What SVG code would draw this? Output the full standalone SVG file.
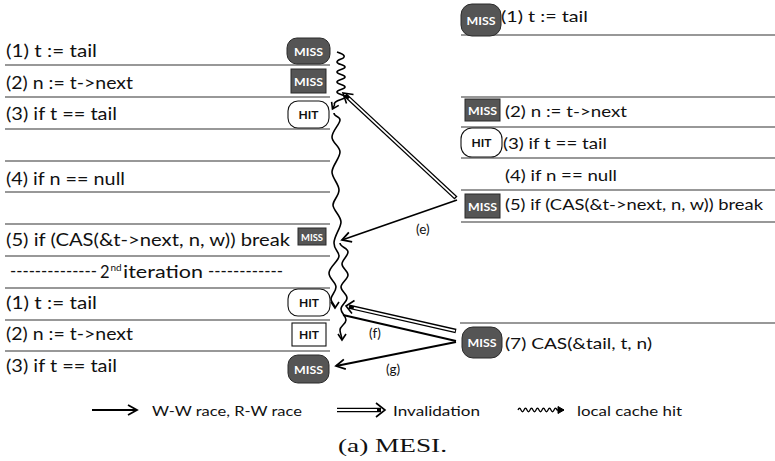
<svg xmlns="http://www.w3.org/2000/svg" width="775" height="461" viewBox="0 0 775 461">
  <style>
    .code { font-family: Lato, "Open Sans", "DejaVu Sans", sans-serif; font-size: 16.5px; fill: #111; }
    .codeR { font-family: Lato, "Open Sans", "DejaVu Sans", sans-serif; font-size: 16px; fill: #111; }
    .legend { font-family: Lato, "Open Sans", "DejaVu Sans", sans-serif; font-size: 14px; fill: #111; }
    .lbl { font-family: Lato, "Open Sans", "DejaVu Sans", sans-serif; font-size: 13.5px; fill: #111; }
    .caption { font-family: "Liberation Serif", "DejaVu Serif", serif; font-size: 19px; fill: #111; }
    .rule { stroke: #333; stroke-width: 1.2; }
    .missBlob { fill: #555; stroke: #2a2a2a; stroke-width: 1; }
    .missBox { fill: #555; stroke: #2a2a2a; stroke-width: 1; }
    .hitBlob { fill: #fff; stroke: #111; stroke-width: 1.1; }
    .hitBox { fill: #fff; stroke: #111; stroke-width: 1.1; }
    .tagW { font-family: Lato, "Open Sans", "DejaVu Sans", sans-serif; font-weight: bold; font-size: 11.5px; fill: #fff; text-anchor: middle; }
    .tagB { font-family: Lato, "Open Sans", "DejaVu Sans", sans-serif; font-weight: bold; font-size: 11.5px; fill: #111; text-anchor: middle; }
    .race { fill: none; stroke: #000; stroke-width: 1.8; }
    .invOut { fill: none; stroke: #000; stroke-width: 4.4; }
    .invIn { fill: none; stroke: #fff; stroke-width: 1.8; }
    .wave { fill: none; stroke: #000; stroke-width: 1.6; stroke-linejoin: round; }
  </style>
  <defs>
    <marker id="ah" markerUnits="userSpaceOnUse" markerWidth="20" markerHeight="20" refX="0" refY="0" orient="auto" overflow="visible">
      <path d="M-9,-5 L0,0 L-9,5" fill="none" stroke="#000" stroke-width="1.8" stroke-linejoin="miter"/>
    </marker>
    <marker id="ahw" markerUnits="userSpaceOnUse" markerWidth="20" markerHeight="20" refX="0" refY="0" orient="auto" overflow="visible">
      <path d="M-6,-4 L0,0 L-6,4" fill="none" stroke="#000" stroke-width="1.6"/>
    </marker>
    <marker id="ahs" markerUnits="userSpaceOnUse" markerWidth="20" markerHeight="20" refX="0" refY="0" orient="auto" overflow="visible">
      <path d="M-6,-3.5 L0,0 L-6,3.5 Z" fill="#000" stroke="#000" stroke-width="1"/>
    </marker>
  </defs>

  <!-- left thread: code rows -->
  <g id="left-rules">
    <line class="rule" x1="5" y1="65" x2="330" y2="65"/>
    <line class="rule" x1="5" y1="97" x2="330" y2="97"/>
    <line class="rule" x1="5" y1="129" x2="330" y2="129"/>
    <line class="rule" x1="5" y1="161" x2="330" y2="161"/>
    <line class="rule" x1="5" y1="192" x2="330" y2="192"/>
    <line class="rule" x1="5" y1="224" x2="330" y2="224"/>
    <line class="rule" x1="5" y1="256" x2="330" y2="256"/>
    <line class="rule" x1="5" y1="288" x2="330" y2="288"/>
    <line class="rule" x1="5" y1="320" x2="330" y2="320"/>
    <line class="rule" x1="5" y1="351" x2="330" y2="351"/>
  </g>

  <g id="L1">
    <text class="code" x="6" y="57" textLength="91" lengthAdjust="spacingAndGlyphs">(1) t := tail</text>
    <rect class="missBlob" x="287" y="38" width="43" height="26" rx="10"/>
    <text class="tagW" x="308.5" y="55.5" textLength="29" lengthAdjust="spacingAndGlyphs">MISS</text>
  </g>
  <g id="L2">
    <text class="code" x="6" y="89" textLength="127" lengthAdjust="spacingAndGlyphs">(2) n := t-&gt;next</text>
    <rect class="missBox" x="291" y="69" width="35" height="24"/>
    <text class="tagW" x="308.5" y="85.5" textLength="29" lengthAdjust="spacingAndGlyphs">MISS</text>
  </g>
  <g id="L3">
    <text class="code" x="6" y="120" textLength="111" lengthAdjust="spacingAndGlyphs">(3) if t == tail</text>
    <rect class="hitBlob" x="288" y="101" width="41" height="27" rx="10"/>
    <text class="tagB" x="308.5" y="119" textLength="20" lengthAdjust="spacingAndGlyphs">HIT</text>
  </g>
  <g id="L4">
    <text class="code" x="6" y="185" textLength="119" lengthAdjust="spacingAndGlyphs">(4) if n == null</text>
  </g>
  <g id="L5">
    <text class="code" x="6" y="246" textLength="284" lengthAdjust="spacingAndGlyphs">(5) if (CAS(&amp;t-&gt;next, n, w)) break</text>
    <rect class="missBox" x="298" y="228" width="28" height="17"/>
    <text class="tagW" x="312" y="240.5" style="font-size:9.5px" textLength="22" lengthAdjust="spacingAndGlyphs">MISS</text>
  </g>
  <g id="iteration2">
    <text class="code" x="10" y="277" textLength="87" lengthAdjust="spacingAndGlyphs">--------------</text>
    <text class="code" x="100" y="278">2</text>
    <text class="code" x="110.5" y="271" style="font-size:10px">nd</text>
    <text class="code" x="123" y="278" textLength="80" lengthAdjust="spacingAndGlyphs">iteration</text>
    <text class="code" x="208" y="277" textLength="75" lengthAdjust="spacingAndGlyphs">------------</text>
  </g>
  <g id="L1b">
    <text class="code" x="6" y="309" textLength="91" lengthAdjust="spacingAndGlyphs">(1) t := tail</text>
    <rect class="hitBlob" x="288" y="289" width="42" height="27" rx="10"/>
    <text class="tagB" x="309" y="307" textLength="20" lengthAdjust="spacingAndGlyphs">HIT</text>
  </g>
  <g id="L2b">
    <text class="code" x="6" y="340" textLength="127" lengthAdjust="spacingAndGlyphs">(2) n := t-&gt;next</text>
    <rect class="hitBox" x="292" y="323" width="34" height="23"/>
    <text class="tagB" x="309" y="339" textLength="20" lengthAdjust="spacingAndGlyphs">HIT</text>
  </g>
  <g id="L3b">
    <text class="code" x="6" y="372" textLength="111" lengthAdjust="spacingAndGlyphs">(3) if t == tail</text>
    <rect class="missBlob" x="288" y="355" width="41" height="28" rx="10"/>
    <text class="tagW" x="308.5" y="373.5" textLength="29" lengthAdjust="spacingAndGlyphs">MISS</text>
  </g>

  <!-- right thread: code rows -->
  <g id="right-rules">
    <line class="rule" x1="461" y1="35" x2="775" y2="35"/>
    <line class="rule" x1="461" y1="97" x2="775" y2="97"/>
    <line class="rule" x1="461" y1="127" x2="775" y2="127"/>
    <line class="rule" x1="461" y1="158" x2="775" y2="158"/>
    <line class="rule" x1="461" y1="190" x2="775" y2="190"/>
    <line class="rule" x1="461" y1="222" x2="775" y2="222"/>
    <line class="rule" x1="460" y1="323" x2="775" y2="323"/>
  </g>
  <g id="R1">
    <rect class="missBlob" x="461" y="4" width="40" height="32" rx="11"/>
    <text class="tagW" x="481" y="24.5" textLength="29" lengthAdjust="spacingAndGlyphs">MISS</text>
    <text class="codeR" x="501" y="22" textLength="87" lengthAdjust="spacingAndGlyphs">(1) t := tail</text>
  </g>
  <g id="R2">
    <rect class="missBox" x="465" y="99" width="35" height="22"/>
    <text class="tagW" x="482.5" y="114.5" textLength="29" lengthAdjust="spacingAndGlyphs">MISS</text>
    <text class="codeR" x="505" y="117" textLength="122" lengthAdjust="spacingAndGlyphs">(2) n := t-&gt;next</text>
  </g>
  <g id="R3">
    <rect class="hitBlob" x="461" y="128" width="41" height="29" rx="11"/>
    <text class="tagB" x="481.5" y="146.5" textLength="20" lengthAdjust="spacingAndGlyphs">HIT</text>
    <text class="codeR" x="503" y="149" textLength="104" lengthAdjust="spacingAndGlyphs">(3) if t == tail</text>
  </g>
  <g id="R4">
    <text class="codeR" x="505" y="181" textLength="112" lengthAdjust="spacingAndGlyphs">(4) if n == null</text>
  </g>
  <g id="R5">
    <rect class="missBox" x="465" y="194" width="35" height="24"/>
    <text class="tagW" x="482.5" y="210.5" textLength="29" lengthAdjust="spacingAndGlyphs">MISS</text>
    <text class="codeR" x="505" y="210" textLength="258" lengthAdjust="spacingAndGlyphs">(5) if (CAS(&amp;t-&gt;next, n, w)) break</text>
  </g>
  <g id="R7">
    <rect class="missBlob" x="462" y="327" width="40" height="31" rx="11"/>
    <text class="tagW" x="482" y="347" textLength="29" lengthAdjust="spacingAndGlyphs">MISS</text>
    <text class="codeR" x="505" y="349" textLength="147" lengthAdjust="spacingAndGlyphs">(7) CAS(&amp;tail, t, n)</text>
  </g>

  <!-- connectors -->
  <g id="connectors">
    <!-- local cache hits -->
    <path class="wave" marker-end="url(#ahw)" d="M337,52 Q349,56 341,59 Q333,62 341,64.5 Q349,67 341,69.5 Q333,72 341,74.5 Q349,77 341,79.5 Q333,82 341,84.5 Q349,87 341,89.5 Q333,92 341,94.5 Q349,97 341,99.5 Q333,102 334.5,105 L332.5,109"/>
    <path class="wave" marker-end="url(#ahw)" d="M334,113 C334,117 340,116 340,120 S332,131 332,137 S340,146 340,152 S332,166 332,172 S339,184 339,190 S333,200 333,205 S341,216 341,222 S334,236 334,243 S339,251 339,256 S329,267 329,273 S336,282 336,287 S331,295 331,299 S335,304 335,308"/>
    <path class="wave" marker-end="url(#ahw)" d="M340,243 C340,247 348,248 348,252 S342,260 342,264 S348,271 348,275 S341,283 341,287 S347,294 347,298 S341,305 341,309 S346,316 346,320 S340,326 340,330 S342,336 342,340"/>

    <!-- invalidation: right (5) to left (2) -->
    <line class="invOut" x1="456" y1="198" x2="345.2" y2="95"/>
    <line class="invIn" x1="455" y1="197.1" x2="348.9" y2="98.4"/>
    <path d="M353.5,94.5 L343,93 L346.5,103.5" fill="none" stroke="#000" stroke-width="1.6"/>

    <!-- (e) race: right (5) to left (5) -->
    <line class="race" x1="457" y1="200" x2="342" y2="240" marker-end="url(#ah)"/>
    <text class="lbl" x="416" y="234">(e)</text>

    <!-- invalidation: right (7) to left (1) of 2nd iteration -->
    <line class="invOut" x1="456" y1="331" x2="348.9" y2="306.7"/>
    <line class="invIn" x1="455" y1="330.8" x2="353.8" y2="307.8"/>
    <path d="M354.5,300.5 L346,306 L352,313.5" fill="none" stroke="#000" stroke-width="1.6"/>

    <!-- (f) race -->
    <line class="race" x1="343" y1="315" x2="456" y2="341"/>
    <text class="lbl" x="369" y="338">(f)</text>

    <!-- (g) race: right (7) to left (3) of 2nd iteration -->
    <line class="race" x1="456" y1="342" x2="336" y2="366" marker-end="url(#ah)"/>
    <text class="lbl" x="386" y="374">(g)</text>
  </g>

  <!-- legend -->
  <g id="legend">
    <line class="race" x1="92" y1="410" x2="137" y2="410" marker-end="url(#ah)"/>
    <text class="legend" x="152" y="416" textLength="150" lengthAdjust="spacingAndGlyphs">W-W race, R-W race</text>
    <line class="invOut" x1="337" y1="410" x2="381" y2="410"/>
    <line class="invIn" x1="337" y1="410" x2="377" y2="410"/>
    <path d="M376,403 L385,410 L376,417" fill="none" stroke="#000" stroke-width="1.6"/>
    <text class="legend" x="393" y="416" textLength="87" lengthAdjust="spacingAndGlyphs">Invalidation</text>
    <path class="wave" style="stroke-width:1.3" marker-end="url(#ahs)" d="M518,410 q1.5,-3.5 3,0 t3,0 t3,0 t3,0 t3,0 t3,0 t3,0 t3,0 t3,0 t3,0 t3,0 t3,0 t3,0 L564,410"/>
    <text class="legend" x="577" y="416" textLength="105" lengthAdjust="spacingAndGlyphs">local cache hit</text>
  </g>

  <text id="caption" class="caption" x="338" y="452" textLength="109" lengthAdjust="spacingAndGlyphs">(a) MESI.</text>
</svg>
